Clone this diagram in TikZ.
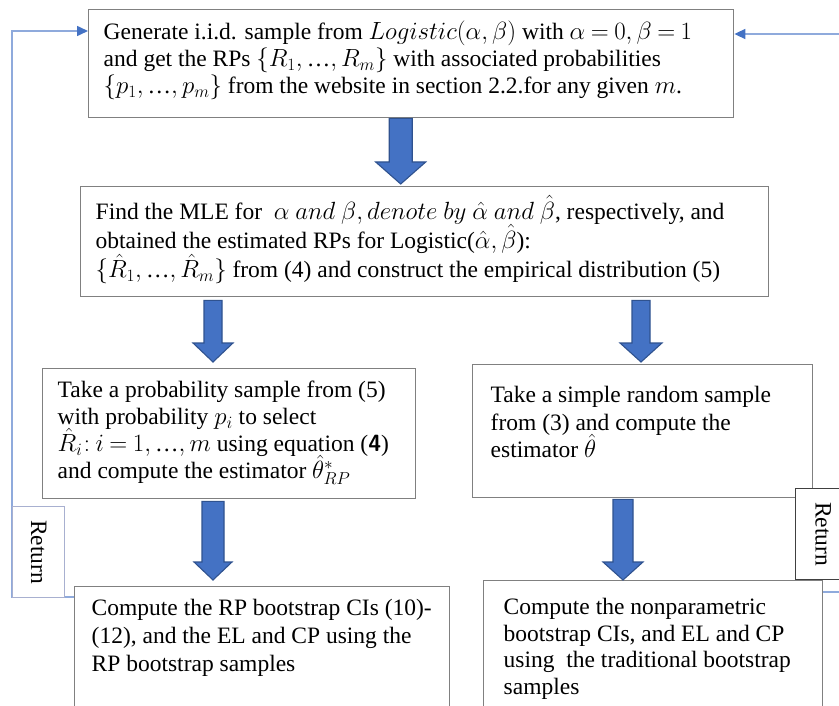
\documentclass[tikz,border=0pt]{standalone}
\usepackage{fontspec}
\usepackage{graphicx}
\setmainfont{Liberation Serif}
\usetikzlibrary{calc,arrows.meta}
\definecolor{arrblue}{HTML}{4472C4}
\definecolor{arredge}{HTML}{2F528F}
\definecolor{boxgray}{HTML}{808080}
\definecolor{retblue}{HTML}{8FAADC}
\definecolor{retedge}{HTML}{A8B0D0}
\newcommand{\el}{\mbox{…}}
\newcommand{\bxt}[4]{\parbox[c][#2][t]{#1}{\fontsize{23.5}{#3}\selectfont\lineskiplimit=-\maxdimen\lineskip=0pt
  \thickmuskip=4mu plus 2mu\raggedright\strut #4}}
\newcommand{\blockarrow}[5]{%
  \draw[blockarr] ($(#1)+(-#3,0)$) -- ($(#1)+(#3,0)$) -- ($(#2)+(#3,-#5)$)
    -- ($(#2)+(#4,-#5)$) -- (#2) -- ($(#2)+(-#4,-#5)$) -- ($(#2)+(-#3,-#5)$) -- cycle;}
\begin{document}
\begin{tikzpicture}[x=1pt,y=-1pt,
  box/.style={draw=boxgray,line width=1.4pt,fill=white,anchor=north west,inner xsep=15pt,inner ysep=10pt},
  retbox/.style={draw=#1,line width=1.2pt,fill=white,anchor=north west,inner sep=0pt,font=\fontsize{23.5}{27}\selectfont},
  retline/.style={draw=retblue,line width=1.6pt,-{Triangle[length=11pt,width=10pt,color=arrblue]}},
  blockarr/.style={fill=arrblue,draw=arredge,line width=1.1pt,line join=miter}]
\useasboundingbox (0,0) rectangle (839,706);
\fill[white] (0,0) rectangle (839,706);
\begin{scope}
\clip (0,0) rectangle (839,706);
% boxes
\node[box,inner ysep=11pt] (b1) at (88,9)
  {\bxt{615pt}{86pt}{27pt}{Generate i.i.d. sample from $Logistic(\alpha,\beta)$ with $\alpha=0,\beta=1$\\
   and get the RPs $\{R_1,\el,R_m\}$ with associated probabilities\\
   $\{p_1,\el,p_m\}$ from the website in section 2.2.for any given $m$.}};
\node[box,inner ysep=9pt] (b2) at (80,186)
  {\bxt{658pt}{92pt}{29pt}{Find the MLE for \ $\alpha\ and\ \beta, denote\ by\ \hat{\alpha}\ and\ \hat{\beta}$, respectively, and\\
   obtained the estimated RPs for Logistic($\hat{\alpha},\hat{\beta}$):\\
   $\bigl\{\hat{R}_1,\el,\hat{R}_m\bigr\}$ from (4) and construct the empirical distribution (5)}};
\node[box,inner ysep=10pt] (b3) at (42,368)
  {\bxt{343pt}{110pt}{27pt}{Take a probability sample from (5)\\
   with probability $p_i$ to select\\
   $\hat{R}_i\!: i=1,\el,m$ using equation ({\sffamily\bfseries 4})\\
   and compute the estimator $\hat{\theta}^{*}_{RP}$}};
\node[box,inner xsep=18pt,inner ysep=19pt] (b4) at (472,364)
  {\bxt{304pt}{95pt}{27.5pt}{Take a simple random sample\\
   from (3) and compute the\\
   estimator $\hat{\theta}$}};
\node[box,inner xsep=17pt,inner ysep=9pt] (b5) at (74,586)
  {\bxt{341pt}{126pt}{28pt}{Compute the RP bootstrap CIs (10)-\\
   (12), and the EL and CP using the\\
   RP bootstrap samples}};
\node[box,inner xsep=20pt,inner ysep=15pt] (b6) at (483,580)
  {\bxt{299pt}{120pt}{26.7pt}{Compute the nonparametric\\
   bootstrap CIs, and EL and CP\\
   using \ the traditional bootstrap\\
   samples}};
% connectors (return loops)
\draw[retline] ($(b6.north east)+(0,12)$) -- (860,592) |- ($(b1.north east)+(0,25)$);
\draw[retline] ($(b5.north west)+(0,11)$) -- (12,597) |- ($(b1.north west)+(0,22)$);
% return labels
\node[retbox=retedge,minimum width=52pt,minimum height=91pt] (r1) at (12,506) {\rotatebox{-90}{Return}};
\node[retbox=black!75,minimum width=55pt,minimum height=91pt] (r2) at (795,488) {\rotatebox{-90}{Return}};
% block arrows
\path (b1.south) ++(-10.5,0) coordinate (s1);
\path (s1 |- b2.north) ++(0,-2) coordinate (e1);
\blockarrow{s1}{e1}{11.5}{25}{22}
\path (213,0 |- b2.south) ++(0,3) coordinate (s2);
\path (213,0 |- b3.north) ++(0,-6) coordinate (e2);
\blockarrow{s2}{e2}{9}{20}{19}
\path (641,0 |- b2.south) ++(0,3) coordinate (s3);
\path (641,0 |- b4.north) ++(0,-2) coordinate (e3);
\blockarrow{s3}{e3}{9}{21}{19}
\path (213,0 |- b3.south) ++(0,2) coordinate (s4);
\path (213,0 |- b5.north) ++(0,-6) coordinate (e4);
\blockarrow{s4}{e4}{11}{19}{18}
\path (623,0 |- b4.south) ++(0,1) coordinate (s5);
\path (623,0 |- b6.north) coordinate (e5);
\blockarrow{s5}{e5}{10}{20}{18}
\end{scope}
\end{tikzpicture}
\end{document}
